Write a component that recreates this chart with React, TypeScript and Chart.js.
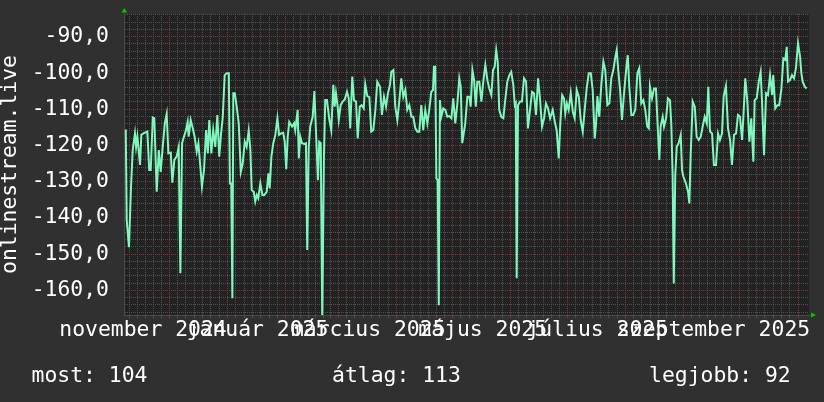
import React, { useEffect, useRef } from 'react';
import { Chart, registerables } from 'chart.js';

Chart.register(...registerables);

// Days counted from 1 November 2024
const days: number[] = [
  6.8, 7.3, 8.5, 9.6, 10.5, 11.7, 12.3, 13.0, 14.4, 15.1, 16.2, 18.3, 19.3, 20.1, 21.2, 22.0, 23.3, 24.4, 25.4, 26.5,
  27.6, 28.6, 29.5, 30.8, 31.6, 32.7, 33.9, 35.0, 35.9, 36.8, 37.8, 38.9, 39.8, 40.3, 41.4, 42.5, 43.5, 44.6, 45.5, 46.4,
  47.4, 48.5, 49.6, 50.5, 51.3, 52.4, 53.4, 54.5, 55.6, 56.6, 57.6, 58.5, 59.5, 60.6, 61.7, 62.3, 63.0, 63.6, 64.1, 64.9,
  65.9, 67.0, 68.1, 69.1, 70.2, 71.2, 72.3, 73.2, 73.9, 75.0, 75.8, 76.6, 77.4, 78.5, 79.6, 80.6, 81.9, 82.8, 83.5, 84.4,
  85.4, 86.5, 87.6, 88.5, 89.5, 90.7, 91.5, 92.3, 93.1, 93.9, 95.4, 96.5, 97.1, 98.4, 99.0, 99.8, 100.7, 101.9, 102.8, 103.5,
  104.3, 105.1, 106.4, 107.3, 108.2, 109.2, 109.9, 110.7, 111.5, 112.4, 113.1, 114.0, 115.3, 116.3, 117.4, 118.1, 118.8, 119.7, 120.3, 121.3,
  122.4, 123.5, 124.7, 125.6, 126.4, 127.5, 128.4, 129.5, 130.4, 131.5, 132.5, 133.6, 134.4, 135.5, 136.6, 137.6, 138.7, 139.8, 140.8, 142.3,
  143.3, 144.4, 145.5, 146.5, 147.6, 148.3, 149.4, 150.4, 151.5, 152.6, 153.6, 154.7, 155.8, 156.8, 157.9, 159.0, 160.0, 161.1, 162.2, 163.2,
  164.3, 165.3, 166.4, 167.5, 168.5, 169.6, 170.5, 171.0, 171.7, 172.3, 173.0, 173.6, 174.2, 174.9, 176.0, 177.1, 178.1, 179.2, 180.3, 181.3,
  182.4, 183.5, 184.5, 185.3, 186.1, 187.7, 188.8, 189.9, 190.6, 191.5, 192.4, 193.3, 194.1, 195.2, 196.3, 197.3, 198.4, 199.5, 200.5, 201.6,
  202.5, 203.4, 204.2, 205.0, 205.8, 206.9, 208.0, 209.0, 210.1, 211.2, 212.2, 213.3, 214.1, 214.6, 215.1, 215.8, 216.9, 217.9, 219.0, 220.1,
  221.1, 222.2, 223.3, 224.3, 225.4, 226.5, 227.5, 228.6, 229.7, 230.7, 231.8, 232.9, 234.3, 235.4, 236.4, 237.5, 238.3, 239.3, 240.3, 241.0,
  241.8, 242.8, 243.9, 245.0, 246.0, 247.1, 248.2, 249.2, 250.3, 251.4, 252.4, 253.5, 254.6, 255.6, 256.7, 257.4, 258.1, 259.1, 260.2, 261.3,
  262.3, 263.4, 264.5, 265.5, 266.6, 267.7, 268.4, 269.3, 270.2, 271.2, 272.3, 273.4, 274.3, 275.1, 276.2, 277.2, 278.3, 279.4, 280.4, 281.5,
  282.6, 283.6, 284.7, 285.5, 286.1, 287.2, 288.3, 289.3, 290.0, 291.1, 291.8, 292.9, 293.6, 294.7, 295.7, 296.8, 297.5, 298.2, 298.8, 299.6,
  300.4, 301.4, 302.5, 303.2, 303.9, 305.3, 306.4, 307.1, 307.8, 308.9, 310.0, 311.0, 312.1, 313.2, 314.2, 315.3, 316.4, 317.2, 318.1, 319.2,
  320.2, 321.3, 322.4, 323.4, 324.5, 325.4, 326.6, 327.7, 328.8, 329.8, 330.9, 332.0, 333.0, 334.1, 335.2, 335.9, 336.9, 338.0, 339.1, 340.1,
  341.2, 341.9, 343.0, 344.1, 345.1, 345.8, 346.9, 348.0, 349.0, 350.1, 351.2, 351.8, 352.9, 354.0, 355.0, 356.1, 357.2, 358.2, 359.0, 359.7,
  360.7, 361.8, 362.9, 363.9, 365.0, 366.1, 366.8, 367.5, 368.6, 369.6,
];

const values: number[] = [
  -115.6, -140.6, -148.1, -131.4, -121.3, -116.7, -120.4, -117.6, -125.4, -117.1, -116.7, -116.2, -126.8, -126.8, -112.3, -112.5, -132.8, -121.3, -127.3, -120.4,
  -113.9, -111.3, -122.2, -122.0, -130.3, -124.0, -123.1, -120.5, -155.3, -119.4, -117.6, -115.8, -113.5, -117.6, -113.0, -115.3, -117.6, -121.7, -119.4, -125.0,
  -131.4, -126.8, -115.8, -122.2, -113.0, -122.2, -115.8, -120.4, -111.6, -123.1, -116.7, -112.1, -100.6, -100.1, -100.1, -130.5, -130.5, -162.2, -105.6, -105.6,
  -109.3, -113.9, -127.3, -125.0, -119.0, -120.4, -115.9, -121.3, -132.3, -132.8, -135.5, -133.7, -134.6, -130.5, -133.7, -133.7, -132.8, -127.7, -131.9, -123.1,
  -119.4, -117.1, -112.5, -117.1, -116.7, -116.5, -119.0, -126.6, -117.6, -113.5, -114.8, -113.9, -115.8, -110.2, -123.6, -117.6, -119.4, -119.6, -119.4, -148.9,
  -120.4, -114.8, -112.1, -105.0, -116.7, -129.6, -119.0, -119.4, -168.0, -123.1, -107.5, -107.5, -113.0, -115.8, -103.3, -109.3, -105.6, -109.3, -113.0, -108.9,
  -107.9, -107.3, -105.2, -107.0, -115.3, -101.0, -107.5, -107.9, -118.1, -109.3, -108.9, -109.8, -103.1, -106.4, -106.7, -116.2, -115.8, -110.2, -102.4, -103.8,
  -111.6, -106.6, -109.3, -105.6, -103.3, -99.7, -99.2, -109.3, -113.0, -107.5, -101.5, -106.6, -104.7, -110.2, -108.9, -112.1, -112.1, -115.3, -116.2, -116.2,
  -108.9, -115.8, -110.2, -113.9, -110.2, -105.2, -104.7, -98.3, -98.3, -129.1, -129.6, -164.1, -107.5, -112.1, -109.8, -110.2, -112.1, -111.9, -112.5, -107.0,
  -113.9, -108.4, -101.5, -103.8, -119.4, -113.9, -106.6, -106.6, -109.3, -99.2, -102.0, -109.3, -102.4, -102.4, -107.9, -102.4, -97.8, -102.0, -104.3, -106.1,
  -99.2, -98.3, -93.7, -96.9, -110.2, -112.1, -112.5, -107.5, -102.4, -100.6, -99.7, -103.3, -108.9, -108.4, -156.7, -108.9, -107.9, -107.9, -101.5, -102.4,
  -115.3, -110.2, -105.2, -105.6, -111.6, -101.5, -107.0, -114.8, -112.5, -108.4, -109.8, -112.5, -110.2, -113.5, -115.8, -123.6, -114.4, -106.1, -107.0, -111.2,
  -108.4, -110.2, -105.5, -110.7, -112.5, -104.7, -106.6, -113.0, -116.2, -109.8, -104.3, -100.1, -100.1, -104.7, -118.1, -113.9, -106.4, -112.1, -103.3, -96.9,
  -99.2, -108.9, -108.4, -101.5, -99.2, -95.5, -93.7, -99.7, -104.7, -113.0, -105.6, -99.2, -95.1, -103.8, -111.6, -111.6, -110.2, -100.1, -98.7, -108.4,
  -107.5, -110.2, -114.8, -115.3, -103.8, -107.0, -104.3, -104.3, -112.1, -124.0, -114.8, -112.1, -114.8, -112.5, -107.0, -107.5, -114.4, -128.6, -158.1, -128.2,
  -120.4, -119.4, -117.1, -126.8, -128.6, -130.5, -132.8, -136.0, -122.7, -107.9, -109.3, -117.6, -118.5, -117.6, -114.8, -112.1, -113.9, -103.8, -116.2, -116.7,
  -125.4, -125.4, -116.7, -118.5, -116.7, -106.4, -103.6, -115.3, -118.5, -125.4, -117.1, -116.7, -111.6, -112.1, -118.5, -112.1, -101.5, -107.9, -119.0, -112.5,
  -124.5, -107.5, -107.0, -102.4, -99.7, -107.5, -122.7, -105.6, -106.1, -100.6, -106.1, -100.6, -109.8, -108.9, -108.9, -104.7, -96.0, -96.4, -92.8, -102.4,
  -102.0, -100.6, -101.5, -98.7, -91.8, -95.5, -100.1, -102.4, -103.8, -104.3,
];

// Month starts (days from 1 Nov 2024): Nov, Dec, Jan, ..., Nov 2025
const monthStarts: number[] = [0, 30, 61, 92, 120, 151, 181, 212, 242, 273, 304, 334, 365];
const monthLabels: string[] = ['november 2024', 'január 2025', 'március 2025', 'május 2025', 'július 2025', 'szeptember 2025'];
const monthLabelDays: number[] = [16, 77, 136, 197, 258, 320];
const yMajorStep = 10;
const yMinorStep = 2;
const legendTexts: string[] = ['most: 104', 'átlag: 113', 'legjobb: 92'];
const yTitle = 'onlinestream.live';

const X_MIN = 5.86;
const X_MAX = 370.86;
const Y_MIN = -166.82;
const Y_MAX = -83.73;

const OUTER_BG = '#303030';
const PLOT_BG = '#222222';
const MAJOR_GRID = '#833838';
const MINOR_GRID = '#505050';
const AXIS_COLOR = '#4a4a4a';
const LINE_COLOR = '#7ff7bd';
const TEXT_COLOR = '#ffffff';
const ARROW_COLOR = '#00c800';
const FONT_FAMILY = '"DejaVu Sans Mono", monospace';
const FONT_SIZE = 21.4;

function buildXGridTicks() {
  const ticks: { value: number; major: boolean }[] = [];
  for (let i = 0; i < monthStarts.length; i++) {
    const s = monthStarts[i];
    if (s >= X_MIN && s <= X_MAX) ticks.push({ value: s, major: true });
    if (i < monthStarts.length - 1) {
      const e = monthStarts[i + 1];
      for (let k = 1; k < 7; k++) {
        const v = s + (k * (e - s)) / 7;
        if (v >= X_MIN && v <= X_MAX) ticks.push({ value: v, major: false });
      }
    }
  }
  return ticks;
}

function buildYTicks() {
  const ticks: { value: number; major: boolean }[] = [];
  const start = Math.ceil(Y_MIN / yMinorStep) * yMinorStep;
  for (let v = start; v <= Y_MAX; v += yMinorStep) {
    ticks.push({ value: v, major: v % yMajorStep === 0 });
  }
  return ticks;
}

const fmt = (v: number) => v.toFixed(1).replace('.', ',');

const rrdPlugin = {
  id: 'rrdDecor',
  beforeDraw(chart: any) {
    const { ctx, chartArea: a } = chart;
    ctx.save();
    ctx.fillStyle = PLOT_BG;
    ctx.fillRect(a.left, a.top, a.right - a.left, a.bottom - a.top);
    ctx.restore();
  },
  afterDraw(chart: any) {
    const { ctx, chartArea: a } = chart;
    ctx.save();
    ctx.fillStyle = ARROW_COLOR;
    ctx.beginPath();
    ctx.moveTo(a.left - 2.5, a.top - 1.5);
    ctx.lineTo(a.left + 3, a.top - 1.5);
    ctx.lineTo(a.left + 0.5, a.top - 6);
    ctx.closePath();
    ctx.fill();
    ctx.beginPath();
    ctx.moveTo(a.right + 2, a.bottom - 2.5);
    ctx.lineTo(a.right + 2, a.bottom + 2.5);
    ctx.lineTo(a.right + 7, a.bottom);
    ctx.closePath();
    ctx.fill();
    ctx.restore();
  },
};

export default function App() {
  const canvasRef = useRef<HTMLCanvasElement>(null);

  useEffect(() => {
    const canvas = canvasRef.current;
    if (!canvas) return;
    const font = { family: FONT_FAMILY, size: FONT_SIZE };
    const points = days.map((d, i) => ({ x: d, y: values[i] }));
    const chart = new Chart(canvas, {
      type: 'line',
      data: {
        datasets: [
          {
            data: points,
            borderColor: LINE_COLOR,
            borderWidth: 2,
            pointRadius: 0,
            tension: 0,
            fill: false,
            clip: 0,
            xAxisID: 'x',
            yAxisID: 'y',
          } as any,
        ],
      },
      options: {
        responsive: false,
        maintainAspectRatio: false,
        animation: false,
        devicePixelRatio: 1,
        events: [],
        layout: { padding: { left: 0, top: 14, right: 15, bottom: 0 } },
        plugins: {
          legend: { display: false },
          tooltip: { enabled: false },
          title: { display: false },
        },
        scales: {
          x: {
            type: 'linear',
            position: 'bottom',
            min: X_MIN,
            max: X_MAX,
            afterBuildTicks: (s: any) => {
              s.ticks = buildXGridTicks();
            },
            afterFit: (s: any) => {
              s.height = 0;
              s.paddingLeft = 0;
              s.paddingRight = 0;
            },
            ticks: { display: false, autoSkip: false },
            grid: {
              color: (c: any) => (c.tick && c.tick.major ? MAJOR_GRID : MINOR_GRID),
              tickColor: (c: any) => (c.tick && c.tick.major ? MAJOR_GRID : MINOR_GRID),
              lineWidth: 1,
              drawTicks: true,
              tickLength: 3,
            },
            border: { display: true, color: AXIS_COLOR, dash: [1, 1] },
          } as any,
          x2: {
            type: 'linear',
            position: 'bottom',
            min: X_MIN,
            max: X_MAX,
            afterBuildTicks: (s: any) => {
              s.ticks = monthLabelDays.map((v) => ({ value: v }));
            },
            afterFit: (s: any) => {
              s.height = 87;
              s.paddingLeft = 0;
              s.paddingRight = 0;
            },
            ticks: {
              autoSkip: false,
              maxRotation: 0,
              minRotation: 0,
              padding: 3,
              color: TEXT_COLOR,
              font: { ...font, lineHeight: 1.2 },
              callback: (_v: any, i: number) => monthLabels[i],
            },
            grid: { display: false, drawTicks: false },
            border: { display: false },
          } as any,
          y: {
            type: 'linear',
            position: 'left',
            min: Y_MIN,
            max: Y_MAX,
            afterBuildTicks: (s: any) => {
              s.ticks = buildYTicks();
            },
            afterFit: (s: any) => {
              s.width = 124;
              s.paddingTop = 0;
              s.paddingBottom = 0;
            },
            ticks: {
              autoSkip: false,
              padding: 15,
              color: TEXT_COLOR,
              font,
              callback: (v: any) => (Number(v) % yMajorStep === 0 ? fmt(Number(v)) : ''),
            },
            grid: {
              color: (c: any) => (c.tick && c.tick.value % yMajorStep === 0 ? MAJOR_GRID : MINOR_GRID),
              lineWidth: 1,
              drawTicks: false,
            },
            border: { display: true, color: AXIS_COLOR, dash: [1, 1] },
            title: {
              display: true,
              text: yTitle,
              color: TEXT_COLOR,
              font: { ...font, lineHeight: 1 },
              padding: 0,
            },
          } as any,
        },
      },
      plugins: [rrdPlugin],
    });
    return () => chart.destroy();
  }, []);

  const legendLefts = [31.5, 332, 649];

  return (
    <div
      style={{
        position: 'fixed',
        left: 0,
        top: 0,
        width: 824,
        height: 402,
        background: OUTER_BG,
        overflow: 'hidden',
      }}
    >
      <canvas ref={canvasRef} width={824} height={402} style={{ display: 'block', width: 824, height: 402 }} />
      {legendTexts.map((t, i) => (
        <div
          key={t}
          style={{
            position: 'absolute',
            left: legendLefts[i],
            top: 363.6,
            fontFamily: FONT_FAMILY,
            fontSize: FONT_SIZE,
            lineHeight: `${FONT_SIZE}px`,
            color: TEXT_COLOR,
            whiteSpace: 'pre',
          }}
        >
          {t}
        </div>
      ))}
    </div>
  );
}
